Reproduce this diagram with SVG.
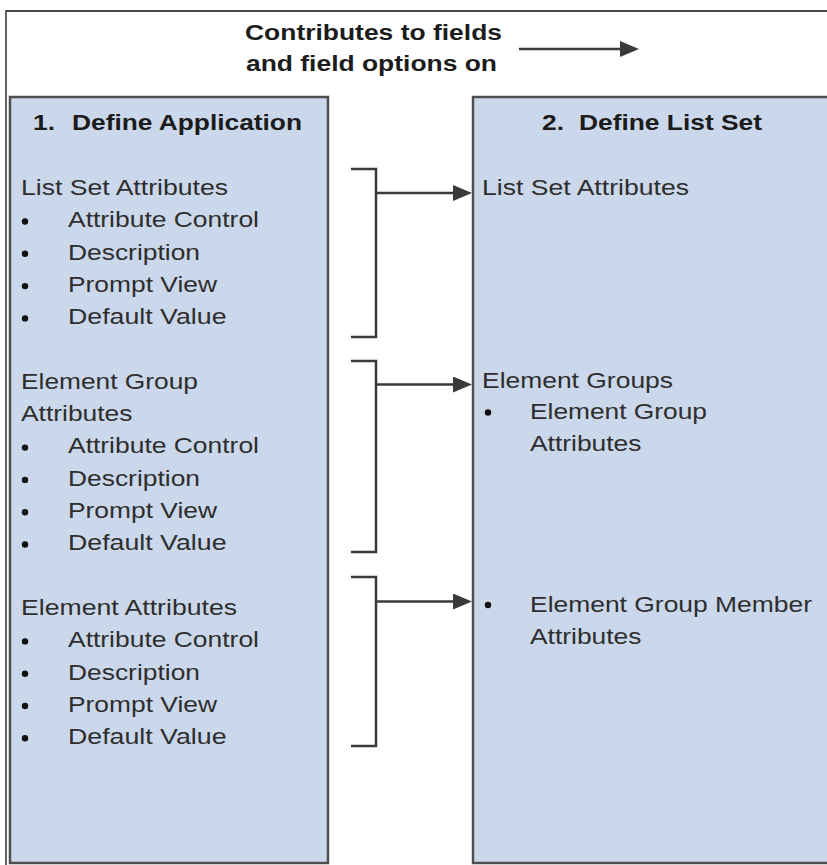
<svg xmlns="http://www.w3.org/2000/svg" width="827" height="865" viewBox="0 0 827 865">
  <style>
    .frame { stroke: #111; stroke-width: 1.3; fill: none; }
    .box { fill: #cbd7ea; stroke: #505050; stroke-width: 2.5; }
    .t { font-family: "Liberation Sans", Arial, sans-serif; font-size: 22px; fill: #2e2e2e; }
    .b { font-family: "Liberation Sans", Arial, sans-serif; font-size: 22px; font-weight: bold; fill: #1c1c1c; }
    .dot { fill: #111; }
    .brk { stroke: #3a3a3a; stroke-width: 2.5; fill: none; }
    .arr { stroke: #3a3a3a; stroke-width: 2.5; fill: none; marker-end: url(#head); }
  </style>
  <defs>
    <marker id="head" viewBox="0 0 19 16" refX="13" refY="8" markerWidth="19" markerHeight="16" markerUnits="userSpaceOnUse" orient="auto">
      <path d="M0,0 L19,8 L0,16 z" fill="#3a3a3a"/>
    </marker>
  </defs>

  <rect width="827" height="865" fill="#ffffff"/>

  <g id="frame">
    <path class="frame" d="M6,865 L6,11 L827,11"/>
  </g>

  <g id="legend">
    <text class="b" x="245" y="40" textLength="257" lengthAdjust="spacingAndGlyphs">Contributes to fields</text>
    <text class="b" x="246" y="71" textLength="251" lengthAdjust="spacingAndGlyphs">and field options on</text>
    <line class="arr" x1="519" y1="49" x2="633" y2="49"/>
  </g>

  <g id="define-application">
    <rect class="box" x="10" y="97" width="318" height="766"/>
    <text class="b" y="130"><tspan x="33" textLength="22" lengthAdjust="spacingAndGlyphs">1.</tspan><tspan x="72" textLength="230" lengthAdjust="spacingAndGlyphs">Define Application</tspan></text>

    <text class="t" x="21" y="195" textLength="207" lengthAdjust="spacingAndGlyphs">List Set Attributes</text>
    <circle class="dot" cx="25" cy="221.5" r="3.2"/>
    <text class="t" x="68" y="227.3" textLength="191" lengthAdjust="spacingAndGlyphs">Attribute Control</text>
    <circle class="dot" cx="25" cy="253.8" r="3.2"/>
    <text class="t" x="68" y="259.6" textLength="132" lengthAdjust="spacingAndGlyphs">Description</text>
    <circle class="dot" cx="25" cy="286.1" r="3.2"/>
    <text class="t" x="68" y="291.9" textLength="149" lengthAdjust="spacingAndGlyphs">Prompt View</text>
    <circle class="dot" cx="25" cy="318.4" r="3.2"/>
    <text class="t" x="68" y="324.2" textLength="158.5" lengthAdjust="spacingAndGlyphs">Default Value</text>

    <text class="t" x="21" y="388.8" textLength="177" lengthAdjust="spacingAndGlyphs">Element Group</text>
    <text class="t" x="21" y="421.1" textLength="111.5" lengthAdjust="spacingAndGlyphs">Attributes</text>
    <circle class="dot" cx="25" cy="447.6" r="3.2"/>
    <text class="t" x="68" y="453.4" textLength="191" lengthAdjust="spacingAndGlyphs">Attribute Control</text>
    <circle class="dot" cx="25" cy="479.9" r="3.2"/>
    <text class="t" x="68" y="485.7" textLength="132" lengthAdjust="spacingAndGlyphs">Description</text>
    <circle class="dot" cx="25" cy="512.2" r="3.2"/>
    <text class="t" x="68" y="518" textLength="149" lengthAdjust="spacingAndGlyphs">Prompt View</text>
    <circle class="dot" cx="25" cy="544.5" r="3.2"/>
    <text class="t" x="68" y="550.3" textLength="158.5" lengthAdjust="spacingAndGlyphs">Default Value</text>

    <text class="t" x="21" y="614.9" textLength="216" lengthAdjust="spacingAndGlyphs">Element Attributes</text>
    <circle class="dot" cx="25" cy="641.4" r="3.2"/>
    <text class="t" x="68" y="647.2" textLength="191" lengthAdjust="spacingAndGlyphs">Attribute Control</text>
    <circle class="dot" cx="25" cy="673.7" r="3.2"/>
    <text class="t" x="68" y="679.5" textLength="132" lengthAdjust="spacingAndGlyphs">Description</text>
    <circle class="dot" cx="25" cy="706" r="3.2"/>
    <text class="t" x="68" y="711.8" textLength="149" lengthAdjust="spacingAndGlyphs">Prompt View</text>
    <circle class="dot" cx="25" cy="738.3" r="3.2"/>
    <text class="t" x="68" y="744.1" textLength="158.5" lengthAdjust="spacingAndGlyphs">Default Value</text>
  </g>

  <g id="define-list-set">
    <rect class="box" x="473" y="97" width="360" height="766"/>
    <text class="b" y="130"><tspan x="542" textLength="22" lengthAdjust="spacingAndGlyphs">2.</tspan><tspan x="579" textLength="183" lengthAdjust="spacingAndGlyphs">Define List Set</tspan></text>

    <text class="t" x="482" y="195" textLength="207" lengthAdjust="spacingAndGlyphs">List Set Attributes</text>

    <text class="t" x="482" y="387.5" textLength="191" lengthAdjust="spacingAndGlyphs">Element Groups</text>
    <circle class="dot" cx="488" cy="412.5" r="3.2"/>
    <text class="t" x="530" y="419" textLength="177" lengthAdjust="spacingAndGlyphs">Element Group</text>
    <text class="t" x="530" y="451" textLength="111.5" lengthAdjust="spacingAndGlyphs">Attributes</text>

    <circle class="dot" cx="488" cy="605" r="3.2"/>
    <text class="t" x="530" y="612" textLength="282" lengthAdjust="spacingAndGlyphs">Element Group Member</text>
    <text class="t" x="530" y="644" textLength="111.5" lengthAdjust="spacingAndGlyphs">Attributes</text>
  </g>

  <g id="connectors">
    <path class="brk" d="M351,169 L376,169 L376,337 L351,337"/>
    <line class="arr" x1="376" y1="193" x2="466" y2="193"/>
    <path class="brk" d="M351,361 L376,361 L376,552 L351,552"/>
    <line class="arr" x1="376" y1="384.5" x2="466" y2="384.5"/>
    <path class="brk" d="M351,577 L376,577 L376,746 L351,746"/>
    <line class="arr" x1="376" y1="601.5" x2="466" y2="601.5"/>
  </g>
</svg>
